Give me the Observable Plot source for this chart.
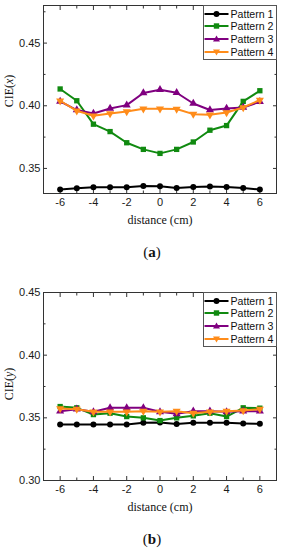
<!DOCTYPE html>
<html><head><meta charset="utf-8">
<script src="https://cdn.jsdelivr.net/npm/d3@7"></script>
<script src="https://cdn.jsdelivr.net/npm/@observablehq/plot@0.6"></script>
<style>
body{margin:0;background:#fff;}
#wrap{position:relative;width:281px;height:550px;overflow:hidden;font-family:"Liberation Sans",Arial,sans-serif;}
.pl{position:absolute;left:0;}
.txt{position:absolute;white-space:nowrap;transform:translate(-50%,-50%);font-family:"Liberation Serif","Times New Roman",serif;color:#111;}
.rot{transform:translate(-50%,-50%) rotate(-90deg);}
.leg{position:absolute;background:#fff;border:1px solid #555;box-sizing:border-box;}
.row{position:absolute;left:0;width:74px;height:12px;display:flex;align-items:center;font-size:10.6px;color:#111;white-space:nowrap;}
.row svg{margin-right:1.5px;flex:none;}
</style></head>
<body><div id="wrap"></div>
<script>
const distance = [-6,-5,-4,-3,-2,-1,0,1,2,3,4,5,6];
const seriesNames = ["Pattern 1","Pattern 2","Pattern 3","Pattern 4"];
const seriesColors = ["#000000","#108a10","#800080","#ff8c1a"];
const xMajor = [-6,-4,-2,0,2,4,6];
const xMinor = [-7,-5,-3,-1,1,3,5,7];

// panel (a) CIE(x)
const cieX1 = [0.3331,0.3342,0.3350,0.3350,0.3350,0.3360,0.3358,0.3344,0.3352,0.3356,0.3352,0.3344,0.3331];
const cieX2 = [0.4134,0.4040,0.3853,0.3794,0.3705,0.3652,0.3620,0.3652,0.3711,0.3805,0.3842,0.4035,0.4120];
const cieX3 = [0.4035,0.3966,0.3938,0.3978,0.4005,0.4102,0.4128,0.4104,0.4018,0.3966,0.3978,0.3986,0.4032];
const cieX4 = [0.4040,0.3960,0.3920,0.3938,0.3954,0.3976,0.3976,0.3974,0.3933,0.3928,0.3946,0.3986,0.4046];
const yMajorA = [0.35,0.40,0.45];
const yMinorA = [0.375,0.425,0.475];

// panel (b) CIE(y)
const cieY1 = [0.3446,0.3446,0.3447,0.3447,0.3447,0.3460,0.3462,0.3450,0.3460,0.3460,0.3460,0.3455,0.3452];
const cieY2 = [0.3590,0.3580,0.3526,0.3537,0.3510,0.3500,0.3478,0.3500,0.3516,0.3537,0.3510,0.3580,0.3577];
const cieY3 = [0.3553,0.3569,0.3548,0.3580,0.3580,0.3580,0.3548,0.3532,0.3553,0.3553,0.3548,0.3553,0.3553];
const cieY4 = [0.3574,0.3569,0.3548,0.3548,0.3548,0.3553,0.3548,0.3553,0.3537,0.3548,0.3553,0.3558,0.3569];
const yMajorB = [0.30,0.35,0.40,0.45];
const yMinorB = [0.325,0.375,0.425];

const triDown = {draw(ctx, size){
  const y = -Math.sqrt(size / (3 * Math.sqrt(3)));
  const s = Math.sqrt(3);
  ctx.moveTo(0, -y * 2); ctx.lineTo(-s * y, y); ctx.lineTo(s * y, y); ctx.closePath();
}};
const symbols = ["circle","square","triangle",triDown];

const wrap = document.getElementById("wrap");

function legendSymbolSvg(i){
  const c = seriesColors[i];
  let m;
  if (i===0) m = `<circle cx="12.5" cy="5" r="3" fill="${c}"/>`;
  else if (i===1) m = `<rect x="9.8" y="2.3" width="5.4" height="5.4" fill="${c}"/>`;
  else if (i===2) m = `<path d="M12.5,1.5L16,7.5L9,7.5Z" fill="${c}"/>`;
  else m = `<path d="M12.5,8.5L16,2.5L9,2.5Z" fill="${c}"/>`;
  return `<svg width="25" height="10"><line x1="0.5" y1="5" x2="24.5" y2="5" stroke="${c}" stroke-width="2"/>${m}</svg>`;
}

const noText = () => "";
function tickAxisX(ticks, anchor, size){
  return Plot.axisX(ticks, {anchor, tickSize:size, dy: anchor==="bottom" ? -size : size, tickFormat:noText, label:null, stroke:"#333"});
}
function tickAxisY(ticks, anchor, size){
  return Plot.axisY(ticks, {anchor, tickSize:size, dx: anchor==="left" ? size : -size, tickFormat:noText, label:null, stroke:"#333"});
}

function panel(top, yDomain, yMajor, yMinor, vals, yVar, tag, ylabOffset){
  const data = [];
  seriesNames.forEach((name,i)=>vals[i].forEach((v,j)=>data.push({series:name, i, d:distance[j], v})));
  const H = 234, mt = 5, mb = 41;
  const marks = [
    Plot.axisX(xMajor, {anchor:"bottom", tickSize:0, tickPadding:5, tickFormat:d=>String(d), label:null}),
    Plot.axisY(yMajor, {anchor:"left", tickSize:0, tickPadding:3, tickFormat:d3.format(".2f"), label:null}),
    tickAxisX(xMajor, "bottom", 4), tickAxisX(xMinor, "bottom", 2.5),
    tickAxisX(xMajor, "top", 4), tickAxisX(xMinor, "top", 2.5),
    tickAxisY(yMajor, "left", 4), tickAxisY(yMinor, "left", 2.5),
    tickAxisY(yMajor, "right", 4), tickAxisY(yMinor, "right", 2.5),
    Plot.frame({stroke:"#333", strokeWidth:1})
  ];
  seriesNames.forEach((name,i)=>{
    const sd = data.filter(o=>o.i===i);
    marks.push(Plot.line(sd, {x:"d", y:"v", stroke:seriesColors[i], strokeWidth:2}));
    marks.push(Plot.dot(sd, {x:"d", y:"v", fill:seriesColors[i], stroke:null, r:3, symbol:symbols[i]}));
  });
  const svg = Plot.plot({
    width:281, height:H, marginTop:mt, marginLeft:43, marginRight:5, marginBottom:mb,
    style:{fontFamily:"'Liberation Sans', Arial, sans-serif", fontSize:"11px", color:"#1a1a1a", background:"transparent", overflow:"visible"},
    x:{domain:[-7,7]},
    y:{domain:yDomain},
    marks
  });
  const box = document.createElement("div");
  box.className = "pl";
  box.style.top = top + "px";
  box.appendChild(svg);
  wrap.appendChild(box);

  const frameTop = top + mt, frameBot = top + H - mb;
  const leg = document.createElement("div");
  leg.className = "leg";
  leg.style.left = "203px"; leg.style.top = frameTop + "px";
  leg.style.width = "74px"; leg.style.height = "55px";
  seriesNames.forEach((name,i)=>{
    const r = document.createElement("div");
    r.className = "row";
    r.style.top = (1.5 + 12.8*i) + "px";
    r.innerHTML = legendSymbolSvg(i) + `<span>${name}</span>`;
    leg.appendChild(r);
  });
  wrap.appendChild(leg);

  const yl = document.createElement("div");
  yl.className = "txt rot";
  yl.style.left = "9px"; yl.style.top = ((frameTop+frameBot)/2 + ylabOffset) + "px";
  yl.style.fontSize = "12px";
  yl.innerHTML = `CIE(<i>${yVar}</i>)`;
  wrap.appendChild(yl);

  const xl = document.createElement("div");
  xl.className = "txt";
  xl.style.left = "160px"; xl.style.top = (frameBot + 27) + "px";
  xl.style.fontSize = "12px";
  xl.textContent = "distance (cm)";
  wrap.appendChild(xl);

  const tg = document.createElement("div");
  tg.className = "txt";
  tg.style.left = "152px"; tg.style.top = (frameBot + 59) + "px";
  tg.style.fontSize = "15px";
  tg.innerHTML = `(<b>${tag}</b>)`;
  wrap.appendChild(tg);
}

panel(0, [0.33,0.48], yMajorA, yMinorA, [cieX1,cieX2,cieX3,cieX4], "x", "a", -8);
panel(287, [0.30,0.45], yMajorB, yMinorB, [cieY1,cieY2,cieY3,cieY4], "y", "b", -2);
</script></body></html>
